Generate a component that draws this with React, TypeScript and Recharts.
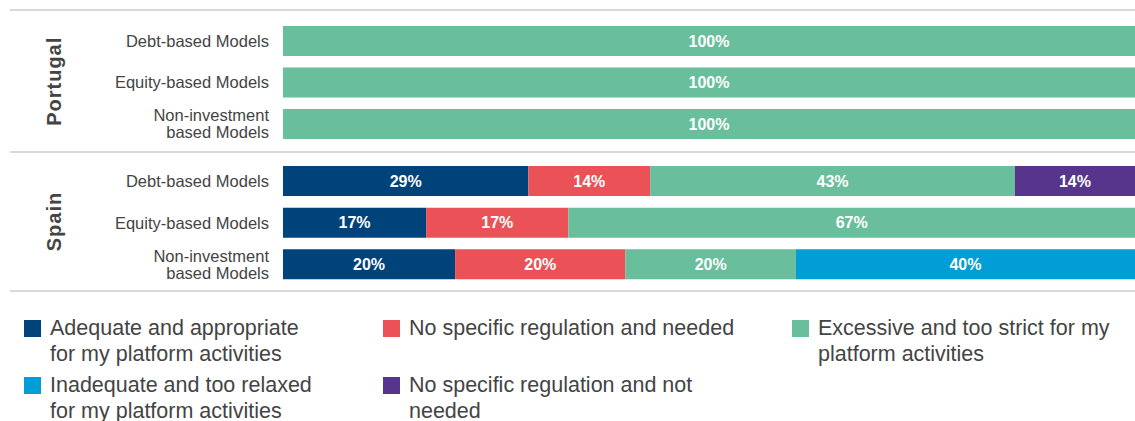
import React from "react";
import { BarChart, Bar, XAxis, YAxis, LabelList } from "recharts";

const categories = ["Debt-based Models", "Equity-based Models", "Non-investment based Models"];
const tickLabelLines = [["Debt-based Models"], ["Equity-based Models"], ["Non-investment", "based Models"]];
const groups = ["Portugal", "Spain"];

const seriesKeys = ["adequate", "needed", "excessive", "inadequate", "notNeeded"];
const seriesNames = [
  "Adequate and appropriate for my platform activities",
  "No specific regulation and needed",
  "Excessive and too strict for my platform activities",
  "Inadequate and too relaxed for my platform activities",
  "No specific regulation and not needed",
];
const legendLines = [
  ["Adequate and appropriate", "for my platform activities"],
  ["No specific regulation and needed"],
  ["Excessive and too strict for my", "platform activities"],
  ["Inadequate and too relaxed", "for my platform activities"],
  ["No specific regulation and not", "needed"],
];
const seriesColors = ["#00437A", "#EA5257", "#69BE9C", "#009DD6", "#57358C"];

// Portugal
const portugalAdequate = [0, 0, 0];
const portugalNeeded = [0, 0, 0];
const portugalExcessive = [100, 100, 100];
const portugalInadequate = [0, 0, 0];
const portugalNotNeeded = [0, 0, 0];

// Spain
const spainAdequate = [28.8, 16.8, 20.2];
const spainNeeded = [14.3, 16.7, 20];
const spainExcessive = [42.8, 66.5, 20];
const spainInadequate = [0, 0, 39.8];
const spainNotNeeded = [14.1, 0, 0];

const buildRows = (vals: number[][]) =>
  categories.map((c, i) => {
    const row: Record<string, any> = { category: c };
    seriesKeys.forEach((k, s) => (row[k] = vals[s][i]));
    return row;
  });

const portugalData = buildRows([portugalAdequate, portugalNeeded, portugalExcessive, portugalInadequate, portugalNotNeeded]);
const spainData = buildRows([spainAdequate, spainNeeded, spainExcessive, spainInadequate, spainNotNeeded]);

const FONT = "'Liberation Sans', Arial, Helvetica, sans-serif";
const TEXT = "#444444";

const CategoryTick = (props: any) => {
  const { x, y, payload } = props;
  const idx = categories.indexOf(payload.value);
  const lines = idx >= 0 ? tickLabelLines[idx] : [payload.value];
  const lh = 17;
  const start = -((lines.length - 1) * lh) / 2;
  return (
    <text x={x} y={y} textAnchor="end" fill={TEXT} fontSize={16.5} fontFamily={FONT}>
      {lines.map((l: string, i: number) => (
        <tspan key={i} x={x} dy={i === 0 ? start + 6 : lh}>
          {l}
        </tspan>
      ))}
    </text>
  );
};

const GroupLabel = (name: string) => (props: any) => {
  const vb = props.viewBox || {};
  const cx = 54;
  const cy = vb.y + vb.height / 2 - 1;
  return (
    <text
      x={cx}
      y={cy}
      transform={`rotate(-90 ${cx} ${cy})`}
      textAnchor="middle"
      dominantBaseline="central"
      fill={TEXT}
      fontSize={20}
      fontWeight="bold"
      letterSpacing={1}
      fontFamily={FONT}
    >
      {name}
    </text>
  );
};

const fmt = (v: any) => (typeof v === "number" && v > 0 ? `${Math.round(v)}%` : "");

const GroupChart = ({ data, name, height, margin }: any) => (
  <BarChart
    width={1135}
    height={height}
    data={data}
    layout="vertical"
    margin={margin}
    barCategoryGap={0}
  >
    <XAxis type="number" domain={[0, 100]} hide />
    <YAxis
      type="category"
      dataKey="category"
      width={283}
      axisLine={false}
      tickLine={false}
      tickMargin={8}
      tick={<CategoryTick />}
      interval={0}
      label={{ content: GroupLabel(name) } as any}
    />
    {seriesKeys.map((k, i) => (
      <Bar key={k} dataKey={k} name={seriesNames[i]} stackId="a" fill={seriesColors[i]} barSize={30} isAnimationActive={false}>
        <LabelList
          dataKey={k}
          position="center"
          formatter={fmt as any}
          fill="#ffffff"
          fontSize={16}
          fontWeight="bold"
          fontFamily={FONT}
        />
      </Bar>
    ))}
  </BarChart>
);

const legendCols = [24, 383, 792];
const legendRows = [320, 377];
const legendPos = [
  [0, 0],
  [1, 0],
  [2, 0],
  [0, 1],
  [1, 1],
];

const Separator = ({ top }: { top: number }) => (
  <div style={{ position: "absolute", left: 10, top, width: 1125, height: 2, background: "#d9d9d9" }} />
);

export default function App() {
  return (
    <div style={{ position: "absolute", left: 0, top: 0, width: 1135, height: 421, background: "#fff", fontFamily: FONT }}>
      <div style={{ position: "absolute", left: 0, top: 0 }}>
        <GroupChart data={portugalData} name={groups[0]} height={152} margin={{ top: 20, right: 0, bottom: 7.5, left: 0 }} />
      </div>
      <div style={{ position: "absolute", left: 0, top: 152 }}>
        <GroupChart data={spainData} name={groups[1]} height={139} margin={{ top: 8, right: 0, bottom: 6, left: 0 }} />
      </div>
      <Separator top={9} />
      <Separator top={151} />
      <Separator top={290} />
      {seriesNames.map((n, i) => {
        const [c, r] = legendPos[i];
        const x = legendCols[c];
        const y = legendRows[r];
        return (
          <div key={n} title={n}>
            <div style={{ position: "absolute", left: x, top: y, width: 17, height: 17, background: seriesColors[i] }} />
            <div
              style={{
                position: "absolute",
                left: x + 26,
                top: y - 5,
                fontSize: 21.5,
                lineHeight: "26px",
                color: TEXT,
                whiteSpace: "nowrap",
              }}
            >
              {legendLines[i].map((l, j) => (
                <div key={j}>{l}</div>
              ))}
            </div>
          </div>
        );
      })}
    </div>
  );
}
